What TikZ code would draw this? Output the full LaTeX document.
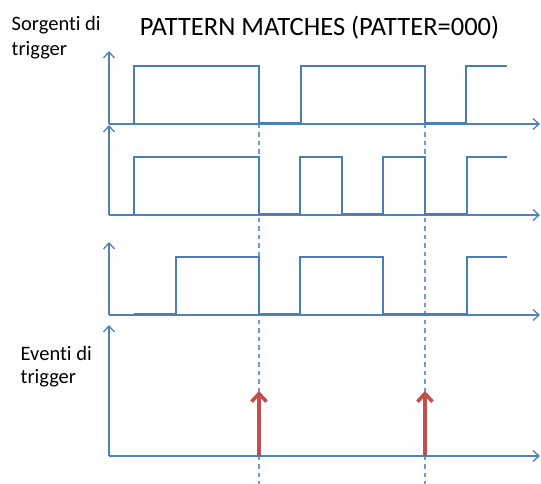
\documentclass[tikz,border=0pt]{standalone}
\usepackage{fontspec}
\setmainfont{Carlito}[Ligatures={NoCommon}]
\usetikzlibrary{arrows.meta}
\definecolor{axisblue}{HTML}{4F81BD}
\definecolor{sigblue}{HTML}{4A7EBB}
\definecolor{dashblue}{HTML}{6F9BD3}
\definecolor{evred}{HTML}{C0504D}
\tikzset{
  axisline/.style={draw=axisblue, line width=1.3pt, -{Straight Barb[length=6pt,width=11pt,line width=1.3pt]}},
  sigline/.style={draw=sigblue, line width=2.4pt, line join=miter},
  guideline/.style={draw=dashblue, line width=1.1pt, dash pattern=on 4.5pt off 4pt},
  eventarrow/.style={draw=evred, line width=3.6pt, -{Straight Barb[length=8pt,width=15pt,line width=3.6pt]}},
  lab/.style={font=\fontsize{20.5}{24}\selectfont, anchor=base west, inner sep=0pt},
}
\begin{document}
\begin{tikzpicture}[x=1pt,y=-1pt]
\useasboundingbox (0,0) rectangle (541,484);
% texts
\node[lab] (src1) at (11.5,30.7) {Sorgenti di};
\node[lab] (src2) at (11.5,55.5) {trigger};
\node[font=\fontsize{26.5}{30}\selectfont, anchor=base, inner sep=0pt] (title) at (319.5,36) {PATTERN MATCHES (PATTER=000)};
\node[lab] (ev1) at (20.5,360) {Eventi di};
\node[lab] (ev2) at (20.5,383.5) {trigger};
% guide lines
\draw[guideline] (259,124) -- (259,484);
\draw[guideline] (425,124) -- (425,484);
% axes
\draw[axisline] (109,124) -- (109,51);
\draw[axisline] (109,124) -- (540,124);
\draw[axisline] (109,215) -- (109,125);
\draw[axisline] (109,215) -- (540,215);
\draw[axisline] (109,315) -- (109,242);
\draw[axisline] (109,315) -- (540,315);
\draw[axisline] (109,456) -- (109,325);
\draw[axisline] (109,456) -- (540,456);
% signals
\draw[sigline] (134,124) -- (134,66) -- (259,66) -- (259,123) -- (301,123) -- (301,66) -- (425,66) -- (425,123) -- (466,123) -- (466,66) -- (507,66);
\draw[sigline] (134,215) -- (134,157) -- (259,157) -- (259,214) -- (300,214) -- (300,157) -- (342,157) -- (342,214) -- (383,214) -- (383,157) -- (425,157) -- (425,214) -- (467,214) -- (467,157) -- (507,157);
\draw[sigline] (134,314) -- (176,314) -- (176,257) -- (259,257) -- (259,314) -- (300,314) -- (300,257) -- (383,257) -- (383,314) -- (467,314) -- (467,257) -- (507,257);
% trigger events
\draw[eventarrow] (259,456) -- (259,391);
\draw[eventarrow] (425,456) -- (425,391);
\end{tikzpicture}
\end{document}
